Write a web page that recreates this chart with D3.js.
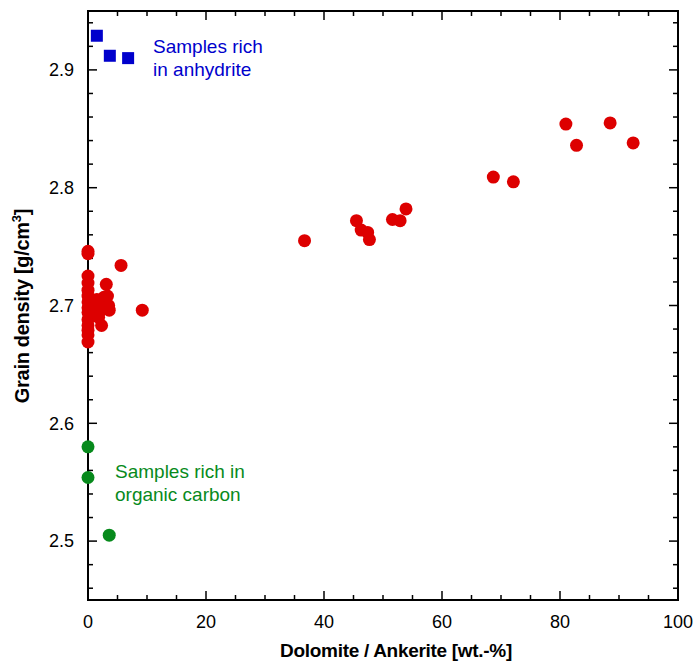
<!DOCTYPE html>
<html>
<head>
<meta charset="utf-8">
<script src="https://cdn.jsdelivr.net/npm/d3@7"></script>
<style>
  html, body { margin: 0; padding: 0; background: #fff; }
  svg { display: block; font-family: "Liberation Sans", Arial, Helvetica, sans-serif; }
</style>
</head>
<body>
<svg id="chart" width="693" height="663"></svg>
<script>
// ---- Data ----
const redX = [0, 0, 0, 0, 0, 0, 0, 0, 0, 0, 0, 0, 0, 0,
              1.0, 1.5, 2.0, 2.3, 2.7, 3.1, 3.3, 3.5, 3.6, 2.5, 1.8, 5.6, 9.2,
              36.7, 45.5, 46.3, 47.4, 47.7, 51.6, 52.9, 53.9,
              68.7, 72.1, 81.0, 82.8, 88.5, 92.4];
const redY = [2.746, 2.744, 2.725, 2.719, 2.713, 2.708, 2.703, 2.698, 2.694, 2.688, 2.683, 2.679, 2.675, 2.669,
              2.700, 2.705, 2.695, 2.683, 2.707, 2.718, 2.708, 2.700, 2.696, 2.698, 2.690, 2.734, 2.696,
              2.755, 2.772, 2.764, 2.762, 2.756, 2.773, 2.772, 2.782,
              2.809, 2.805, 2.854, 2.836, 2.855, 2.838];
const blueX = [1.5, 3.7, 6.8];
const blueY = [2.929, 2.912, 2.910];
const greenX = [0, 0, 3.6];
const greenY = [2.580, 2.554, 2.505];
const xTicks = [0, 20, 40, 60, 80, 100];
const yTicks = [2.5, 2.6, 2.7, 2.8, 2.9];
const xTitle = "Dolomite / Ankerite [wt.-%]";
const yTitle = "Grain density [g/cm";
const anhydriteLabel = ["Samples rich", "in anhydrite"];
const organicLabel = ["Samples rich in", "organic carbon"];

// ---- Layout ----
const svg = d3.select("#chart");
const L = 88, R = 678, T = 11, B = 600;
const x = d3.scaleLinear().domain([0, 100]).range([L, R]);
const y = d3.scaleLinear().domain([2.45, 2.95]).range([B, T]);

const xMinor = d3.range(0, 100.001, 5);
const yMinor = d3.range(2.46, 2.95, 0.02);

function axisLines(g, scale, vals, len, orient) {
  g.selectAll("line").data(vals).join("line")
    .attr("stroke", "#000").attr("stroke-width", 1.5)
    .each(function(d) {
      const s = d3.select(this);
      if (orient === "bottom") s.attr("x1", scale(d)).attr("x2", scale(d)).attr("y1", B).attr("y2", B - len);
      if (orient === "top") s.attr("x1", scale(d)).attr("x2", scale(d)).attr("y1", T).attr("y2", T + len);
      if (orient === "left") s.attr("y1", scale(d)).attr("y2", scale(d)).attr("x1", L).attr("x2", L + len);
      if (orient === "right") s.attr("y1", scale(d)).attr("y2", scale(d)).attr("x1", R).attr("x2", R - len);
    });
}

const ticks = svg.append("g");
const xMinorF = xMinor.filter(d => d % 20 !== 0);
const yMinorF = yMinor.filter(d => Math.abs(Math.round(d * 10) - d * 10) > 0.01);
axisLines(ticks.append("g"), x, xMinorF, 5, "bottom");
axisLines(ticks.append("g"), x, xTicks, 9, "bottom");
axisLines(ticks.append("g"), x, xMinorF, 5, "top");
axisLines(ticks.append("g"), x, xTicks, 9, "top");
axisLines(ticks.append("g"), y, yMinorF, 5, "left");
axisLines(ticks.append("g"), y, yTicks, 9, "left");
axisLines(ticks.append("g"), y, yMinorF, 5, "right");
axisLines(ticks.append("g"), y, yTicks, 9, "right");

// frame
svg.append("rect").attr("x", L).attr("y", T).attr("width", R - L).attr("height", B - T)
  .attr("fill", "none").attr("stroke", "#000").attr("stroke-width", 2);

// tick labels
svg.append("g").selectAll("text").data(xTicks).join("text")
  .attr("x", d => x(d)).attr("y", B + 28)
  .attr("text-anchor", "middle").attr("font-size", 18).attr("fill", "#000")
  .text(d => d3.format("d")(d));
svg.append("g").selectAll("text").data(yTicks).join("text")
  .attr("x", L - 14).attr("y", d => y(d)).attr("dy", "0.35em")
  .attr("text-anchor", "end").attr("font-size", 18).attr("fill", "#000")
  .text(d => d3.format(".1f")(d));

// axis titles
svg.append("text").attr("x", 396).attr("y", 657)
  .attr("text-anchor", "middle").attr("font-size", 19).attr("font-weight", "bold")
  .attr("letter-spacing", -0.3).text(xTitle);
const yt = svg.append("text")
  .attr("transform", `translate(29, 306) rotate(-90)`)
  .attr("text-anchor", "middle").attr("font-size", 20).attr("font-weight", "bold")
  .attr("letter-spacing", -0.3);
yt.append("tspan").text(yTitle);
yt.append("tspan").attr("font-size", 13).attr("dy", -8).text("3");
yt.append("tspan").attr("dy", 8).text("]");

// points
svg.append("g").selectAll("circle").data(d3.range(redX.length)).join("circle")
  .attr("cx", i => x(redX[i])).attr("cy", i => y(redY[i])).attr("r", 6.5)
  .attr("fill", "#dd0000");
svg.append("g").selectAll("circle").data(d3.range(greenX.length)).join("circle")
  .attr("cx", i => x(greenX[i])).attr("cy", i => y(greenY[i])).attr("r", 6.5)
  .attr("fill", "#078a1c");
svg.append("g").selectAll("rect").data(d3.range(blueX.length)).join("rect")
  .attr("x", i => x(blueX[i]) - 6).attr("y", i => y(blueY[i]) - 6)
  .attr("width", 12).attr("height", 12)
  .attr("fill", "#0000cc");

// annotations
const a1 = svg.append("text").attr("font-size", 19).attr("fill", "#0000cc");
anhydriteLabel.forEach((t, i) => a1.append("tspan").attr("x", 153).attr("y", 53 + i * 23).text(t));
const a2 = svg.append("text").attr("font-size", 19).attr("fill", "#078a1c");
organicLabel.forEach((t, i) => a2.append("tspan").attr("x", 115).attr("y", 478 + i * 23).text(t));
</script>
</body>
</html>
